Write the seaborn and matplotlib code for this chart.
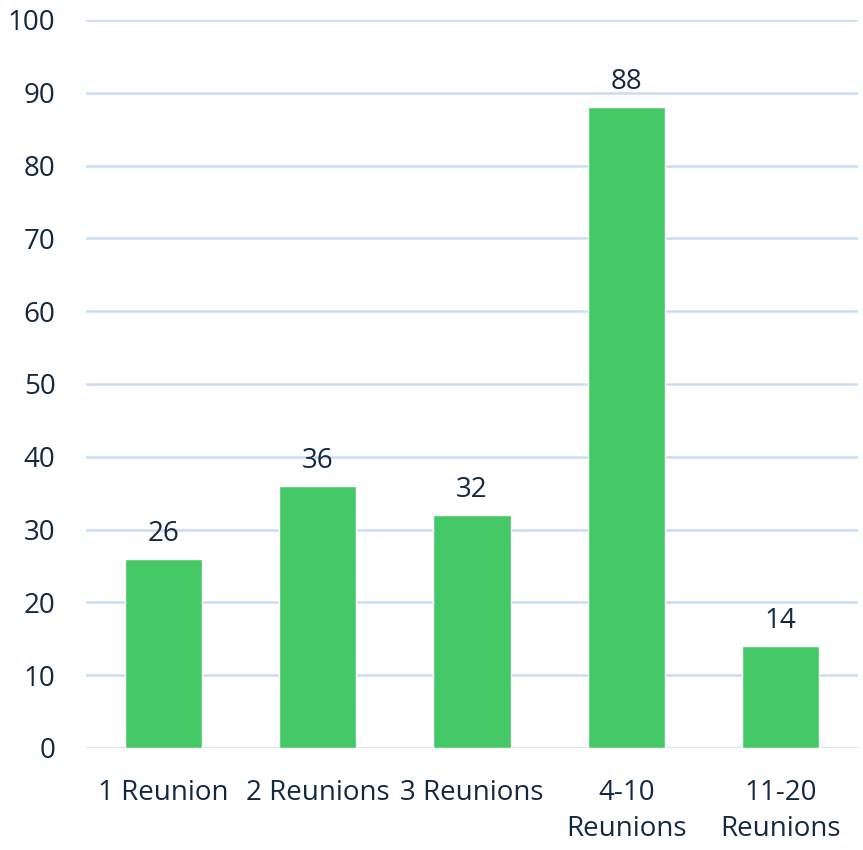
import matplotlib
matplotlib.use("Agg")
import matplotlib.pyplot as plt
import seaborn as sns
import pandas as pd

categories = ["1 Reunion", "2 Reunions", "3 Reunions", "4-10\nReunions", "11-20\nReunions"]
values = [26, 36, 32, 88, 14]

df = pd.DataFrame({"category": categories, "value": values})

sns.set_style("white")
plt.rcParams['font.family'] = ['Open Sans', 'DejaVu Sans']
text_color = "#14293f"

fig = plt.figure(figsize=(8.63, 8.5), dpi=100)
ax = fig.add_axes([86 / 863, 102 / 850, 772 / 863, 728 / 850])

sns.barplot(data=df, x="category", y="value", color="#45c866", saturation=1,
            width=0.5, ax=ax, zorder=3)

ax.set_ylim(0, 100)
ax.set_xlim(-0.5, 4.5)
ax.set_yticks(range(0, 101, 10))
ax.yaxis.grid(True, color="#c9dcf2", linewidth=1.8, zorder=0)
ax.set_axisbelow(True)
for s in ax.spines.values():
    s.set_visible(False)
ax.set_xlabel("")
ax.set_ylabel("")
ax.tick_params(axis="both", length=0, labelsize=20, labelcolor=text_color)
ax.tick_params(axis="y", pad=22)
ax.tick_params(axis="x", pad=22)
for lbl in ax.get_yticklabels():
    lbl.set_horizontalalignment("right")
for lbl in ax.get_xticklabels():
    lbl.set_linespacing(1.4)

ax.bar_label(ax.containers[0], padding=8, fontsize=20, color=text_color)

fig.savefig("out.png", dpi=100)
